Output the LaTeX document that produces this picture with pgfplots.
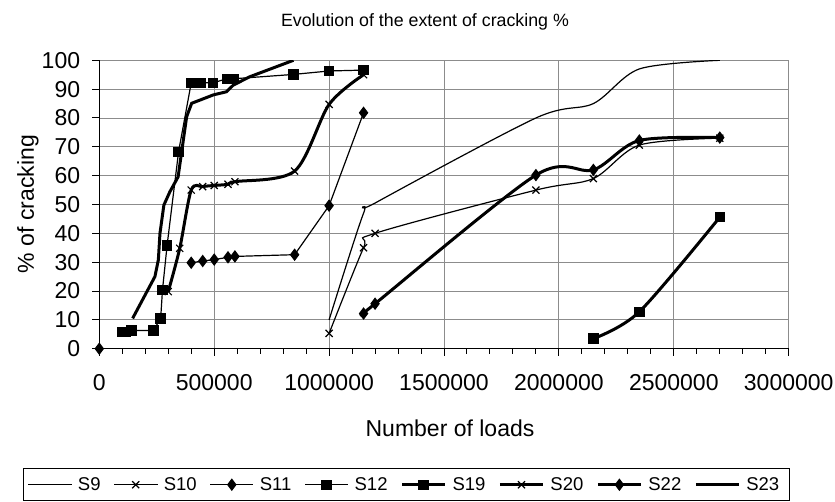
\documentclass[border=0pt]{standalone}
\usepackage{fontspec}
\setmainfont{Liberation Sans}
\usepackage{pgfplots}
\pgfplotsset{compat=1.18}
\definecolor{gridgray}{rgb}{0.55,0.55,0.55}
\begin{document}
\begin{tikzpicture}[x=1pt,y=1pt]
\pgfplotsset{
  thinl/.style={black, line width=1.2pt},
  thickl/.style={black, line width=3pt},
  legend image code/.code={\draw[mark repeat=2,mark phase=2] plot coordinates {(0pt,0pt) (21.5pt,0pt) (43pt,0pt)};},
}
\begin{axis}[
  at={(0,0)}, anchor=south west, scale only axis,
  width=689.4pt, height=288.4pt,
  xmin=0, xmax=3000000, ymin=0, ymax=100,
  xtick={0,500000,1000000,1500000,2000000,2500000,3000000},
  xticklabels={0,500000,1000000,1500000,2000000,2500000,3000000},
  minor x tick num=4,
  ytick={0,10,20,30,40,50,60,70,80,90,100},
  yticklabels={0,10,20,30,40,50,60,70,80,90,100},
  scaled x ticks=false,
  tick align=outside, xtick pos=bottom, ytick pos=left,
  major tick length=7pt, minor tick length=5pt,
  tick style={black, line width=1pt},
  grid=major, major grid style={gridgray, line width=0.9pt},
  axis line style={gridgray, line width=1pt},
  ticklabel style={font=\fontsize{23}{27}\selectfont},
  yticklabel style={anchor=east, inner sep=0pt, xshift=-12pt},
  xticklabel style={anchor=north, inner sep=0pt, yshift=-19pt},
  label style={font=\fontsize{23}{27}\selectfont},
  xlabel={Number of loads},
  ylabel={\% of cracking},
  xlabel style={at={(axis description cs:0.5087,-0.275)}, anchor=center},
  ylabel style={at={(axis description cs:-0.1034,0.5017)}, anchor=center},
  title={Evolution of the extent of cracking \%},
  title style={at={(axis description cs:0.4724,1.1397)}, anchor=center, yshift=-8pt, font=\fontsize{17.8}{20}\selectfont},
  clip mode=individual,
  legend columns=8,
  legend cell align=left,
  legend style={at={(axis description cs:0.4456,-0.4137)}, anchor=north,
    draw=black, line width=1pt, font=\fontsize{18.5}{21}\selectfont,
    inner xsep=4pt, inner ysep=5pt,
    nodes={inner xsep=6pt, inner ysep=4pt},
    /tikz/every even column/.append style={column sep=7pt}},
  extra description/.code={
    \draw[black, line width=1.5pt] (rel axis cs:0,1) -- (rel axis cs:0,0) -- (rel axis cs:1,0);
  },
]
% S9
\addplot[thinl, smooth, no marks] coordinates {
 (1000000,10) (1150000,47) (1200000,50.5) (1900000,80) (2150000,85) (2350000,97) (2700000,100)};
\addlegendentry{S9}
% S10
\addplot[thinl, smooth, mark=x, mark size=5pt, mark options={solid, line width=1.2pt}] coordinates {
 (1000000,5.3) (1150000,35) (1200000,40) (1900000,55) (2150000,59) (2350000,70.6) (2700000,73)};
\addlegendentry{S10}
% S11
\addplot[thinl, mark=diamond*, mark size=5.5pt, mark options={solid, line width=1pt}] coordinates {
 (400000,29.8) (450000,30.4) (500000,30.9) (560000,31.7) (590000,32) (850000,32.6) (1000000,49.6) (1150000,81.8)};
\addlegendentry{S11}
% S12
\addplot[thinl, mark=square*, mark size=4.7pt, mark options={solid, line width=1pt}] coordinates {
 (100000,5.8) (115000,5.8) (140000,6.3) (235000,6.3) (267000,10.5) (275000,20.4) (295000,35.8) (345000,68.3)
 (400000,92.2) (440000,92.2) (495000,92.2) (555000,93.6) (585000,93.6) (845000,95.1) (1000000,96.3) (1150000,96.6)};
\addlegendentry{S12}
% S19
\addplot[thickl, smooth, mark=square*, mark size=4.7pt, mark options={solid, line width=1pt}] coordinates {
 (2150000,3.5) (2350000,12.8) (2700000,45.6)};
\addlegendentry{S19}
% S20
\addplot[thickl, smooth, mark=x, mark size=5pt, mark options={solid, line width=1.2pt}] coordinates {
 (300000,19.8) (350000,34.8) (400000,55) (450000,56.2) (500000,56.6) (560000,57) (590000,57.9) (850000,61.6) (1000000,84.7) (1150000,95)};
\addlegendentry{S20}
% S22
\addplot[thickl, smooth, mark=diamond*, mark size=5.5pt, mark options={solid, line width=1pt}] coordinates {
 (1150000,12.2) (1200000,15.6) (1900000,60.2) (2150000,62) (2350000,72.2) (2700000,73.2)};
\addlegendentry{S22}
% S23
\addplot[thickl, no marks] coordinates {
 (145000,10.5) (242000,25) (257000,30.8) (264000,40) (281000,49.8) (307000,54.4) (343000,59.6) (380000,80.4)
 (402000,85.1) (438000,86.2) (496000,88) (554000,89.1) (583000,91.4) (655000,94.3) (845000,100)};
\addlegendentry{S23}
% point at origin
\addplot[forget plot, only marks, mark=diamond*, mark size=5.5pt, mark options={black, line width=1pt}] coordinates {(0,0)};
\end{axis}
\pgfresetboundingbox
\path[use as bounding box] (-99.3,-152.3) rectangle (735.7,348.7);
\end{tikzpicture}
\end{document}
